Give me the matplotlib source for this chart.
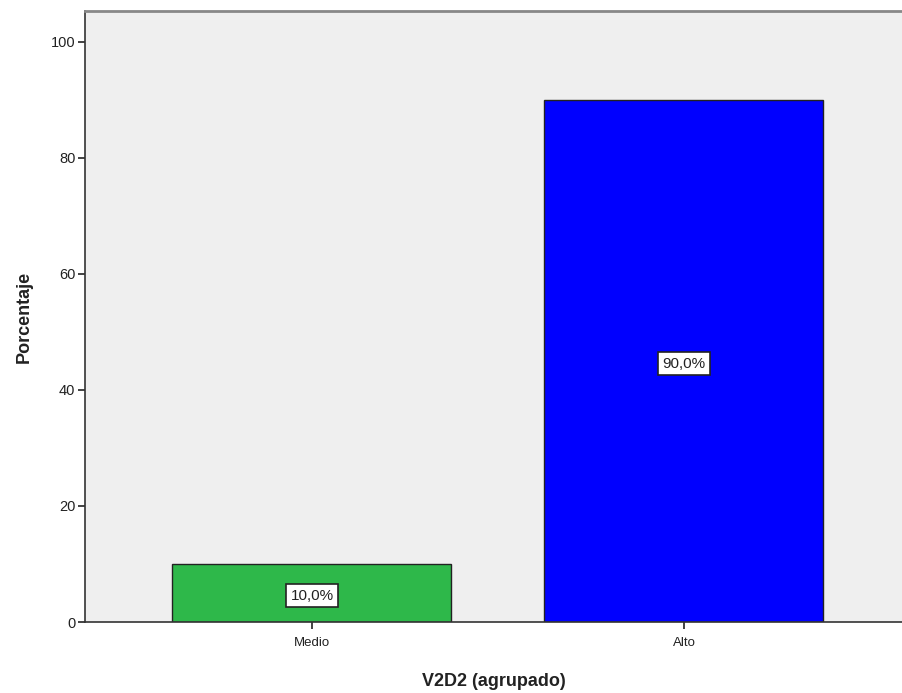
import matplotlib
matplotlib.use("Agg")
import matplotlib.pyplot as plt

# data
categories = ['Medio', 'Alto']
percentages = [10.0, 90.0]
bar_colors = ['#2eb84a', '#0000ff']
yticks = [0, 20, 40, 60, 80, 100]

plt.rcParams['font.family'] = ['Liberation Sans', 'DejaVu Sans']

fig = plt.figure(figsize=(9.02, 6.93), dpi=100)
ax = fig.add_axes((85 / 902, 71 / 693, 1 - 85 / 902, 611 / 693))
ax.set_facecolor('#efefef')

xs = list(range(len(categories)))
ax.bar(xs, percentages, width=0.75, color=bar_colors,
       edgecolor='#222222', linewidth=1.0, zorder=2)

# value labels in white boxes, at half the bar height
for x, p in zip(xs, percentages):
    ax.text(x, p / 2 - 0.5, '{0:.1f}%'.format(p).replace('.', ','),
            ha='center', va='center', fontsize=11, color='#222222', zorder=3,
            bbox=dict(boxstyle='square,pad=0.3', facecolor='white',
                      edgecolor='#222222', linewidth=1.2))

ax.set_xlim(-0.61, 1.586)
ax.set_ylim(0, 105.3)
ax.set_xticks(xs)
ax.set_xticklabels(categories, fontsize=9.5)
ax.set_yticks(yticks)
ax.set_yticklabels([str(t) for t in yticks], fontsize=10.5)
ax.tick_params(axis='both', length=5, width=1.2, color='#222222',
               labelcolor='#222222')
ax.tick_params(axis='x', pad=6)
ax.tick_params(axis='y', pad=2)

ax.spines['left'].set_color('#333333')
ax.spines['bottom'].set_color('#333333')
ax.spines['left'].set_linewidth(1.2)
ax.spines['bottom'].set_linewidth(1.2)
ax.spines['top'].set_color('#888888')
ax.spines['top'].set_linewidth(2)
ax.spines['right'].set_visible(False)

ax.set_xlabel('V2D2 (agrupado)', fontsize=13, fontweight='bold',
              color='#222222', labelpad=17)
ax.set_ylabel('Porcentaje', fontsize=13, fontweight='bold',
              color='#222222', labelpad=13)

fig.savefig('out.png', dpi=100)
